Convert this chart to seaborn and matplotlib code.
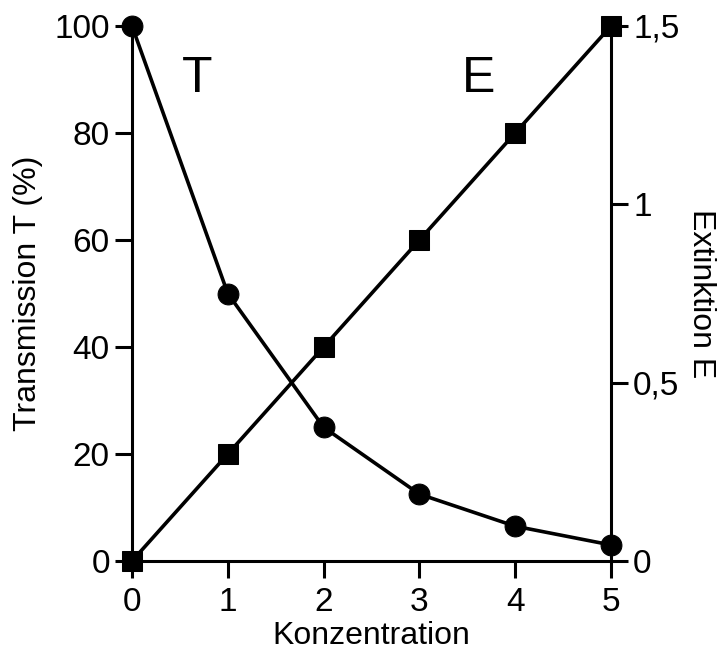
import matplotlib
matplotlib.use("Agg")
import matplotlib.pyplot as plt
import matplotlib.font_manager as fm
import seaborn as sns
import pandas as pd

konz = [0, 1, 2, 3, 4, 5]
transmission = [100, 50, 25, 12.5, 6.5, 3]
extinktion = [0, 0.3, 0.6, 0.9, 1.2, 1.5]
left_ticks = [0, 20, 40, 60, 80, 100]
right_ticks = [0, 0.5, 1, 1.5]
right_labels = ["0", "0,5", "1", "1,5"]

sns.set_theme(style="ticks")
names = {f.name for f in fm.fontManager.ttflist}
fam = "Liberation Sans Narrow" if "Liberation Sans Narrow" in names else "Liberation Sans"
plt.rcParams["font.family"] = [fam, "DejaVu Sans"]
plt.rcParams["text.color"] = "black"
plt.rcParams["axes.labelcolor"] = "black"

df = pd.DataFrame({"K": konz, "T": transmission, "E": extinktion})

fig = plt.figure(figsize=(7.18, 6.55), dpi=100)
ax = fig.add_axes([132/718, 1 - 561/655, (611-132)/718, (561-26)/655])
ax2 = ax.twinx()

sns.lineplot(data=df, x="K", y="T", ax=ax, color="black", linewidth=2.6,
             marker="o", markersize=15, markeredgecolor="black", markerfacecolor="black")
sns.lineplot(data=df, x="K", y="E", ax=ax2, color="black", linewidth=2.6,
             marker="s", markersize=14, markeredgecolor="black", markerfacecolor="black")

ax.set_xlim(0, 5)
ax.set_ylim(0, 100)
ax2.set_ylim(0, 1.5)
ax.set_xticks(konz)
ax.set_yticks(left_ticks)
ax2.set_yticks(right_ticks)
ax2.set_yticklabels(right_labels)

for a in (ax, ax2):
    a.spines["top"].set_visible(False)
    for s in a.spines.values():
        s.set_linewidth(2.2)
        s.set_color("black")
    a.tick_params(length=12, width=2.2, labelsize=24, colors="black", pad=4)
    for m in a.lines:
        m.set_clip_on(False)
ax.tick_params(axis="x", pad=7)
ax.spines["right"].set_visible(False)
ax2.spines["left"].set_visible(False)
ax2.spines["bottom"].set_visible(False)

ax.set_xlabel("Konzentration", fontsize=23, labelpad=2)
ax.set_ylabel("Transmission T (%)", fontsize=23, labelpad=8)
ax2.set_ylabel("Extinktion E", fontsize=23, rotation=270, labelpad=26)

ax.text(0.68, 90, "T", fontsize=36, ha="center", va="center")
ax.text(3.62, 90, "E", fontsize=36, ha="center", va="center")

fig.savefig("out.png", dpi=100, facecolor="white")
